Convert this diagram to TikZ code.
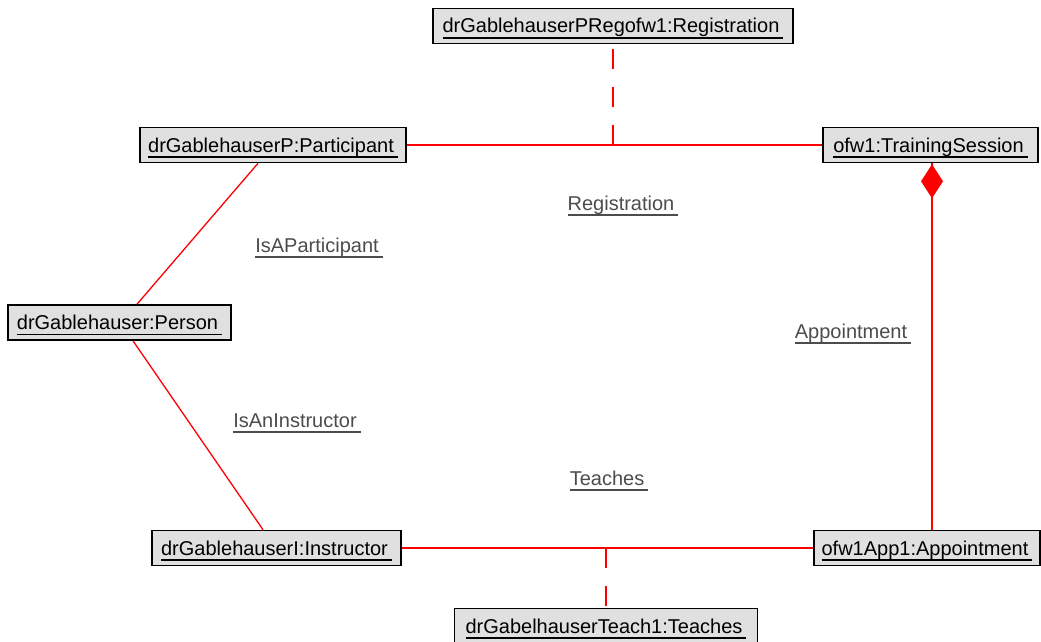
\documentclass[tikz,border=0pt]{standalone}
\usepackage{fontspec}
\setmainfont{Liberation Sans}
% underlined object / link names, the rule runs a little past the text
\newcommand\ultext[1]{\setbox0\hbox{#1\kern4pt}\rlap{\vrule height -4.2pt depth 5.6pt width \wd0}\box0}
\begin{document}
\begin{tikzpicture}[x=1pt,y=-1pt,
  font=\fontsize{20}{23}\selectfont,
  obj/.style={draw=black, line width=1.6pt, fill=black!12, inner sep=0pt,
    minimum height=35pt, text height=17pt, text depth=3pt},
  link/.style={red, line width=1.3pt},
  assoc/.style={link, dash pattern=on 20pt off 18pt},
  lbl/.style={text=black!70, inner sep=0pt, text height=17pt, text depth=3pt}]
\useasboundingbox (0,0) rectangle (1041,642);
\fill[white] (0,0) rectangle (1041,642);

% objects
\node[obj, minimum width=360pt] (reg)   at (613,26)    {\ultext{drGablehauserPRegofw1:Registration}};
\node[obj, minimum width=266pt] (part)  at (273,145)   {\ultext{drGablehauserP:Participant}};
\node[obj, minimum width=215pt] (ts)    at (930.5,145) {\ultext{ofw1:TrainingSession}};
\node[obj, minimum width=223pt] (pers)  at (119.5,322.5) {\ultext{drGablehauser:Person}};
\node[obj, minimum width=249pt] (inst)  at (276.5,548) {\ultext{drGablehauserI:Instructor}};
\node[obj, minimum width=226pt] (app)   at (927,548)   {\ultext{ofw1App1:Appointment}};
\node[obj, minimum width=303pt] (teach) at (606,626)   {\ultext{drGabelhauserTeach1:Teaches}};

% links
\draw[link] (part.east) -- (ts.west);
\draw[link] (inst.east) -- (app.west);
\draw[link] ([xshift=-15pt]part.south) -- ([xshift=17.5pt]pers.north);
\draw[link] ([xshift=13.5pt]pers.south) -- ([xshift=-13.5pt]inst.north);
\draw[assoc] (reg.south |- part.east) -- (reg.south);
\draw[assoc] (teach.north |- inst.east) -- (teach.north);

% composition: training session owns its appointments
\draw[link] ([xshift=1.5pt]ts.south) -- ([xshift=5pt]app.north);
\fill[red] ([xshift=1.5pt,yshift=-1pt]ts.south) -- ++(11,17) -- ++(-11,17) -- ++(-11,-17) -- cycle;

% link labels
\node[lbl] (lreg)   at (623,203) {\ultext{Registration}};
\node[lbl] (lpart)  at (319,245) {\ultext{IsAParticipant}};
\node[lbl] (lapp)   at (853,331) {\ultext{Appointment}};
\node[lbl] (linst)  at (297,420) {\ultext{IsAnInstructor}};
\node[lbl] (lteach) at (609,478) {\ultext{Teaches}};
\end{tikzpicture}
\end{document}
